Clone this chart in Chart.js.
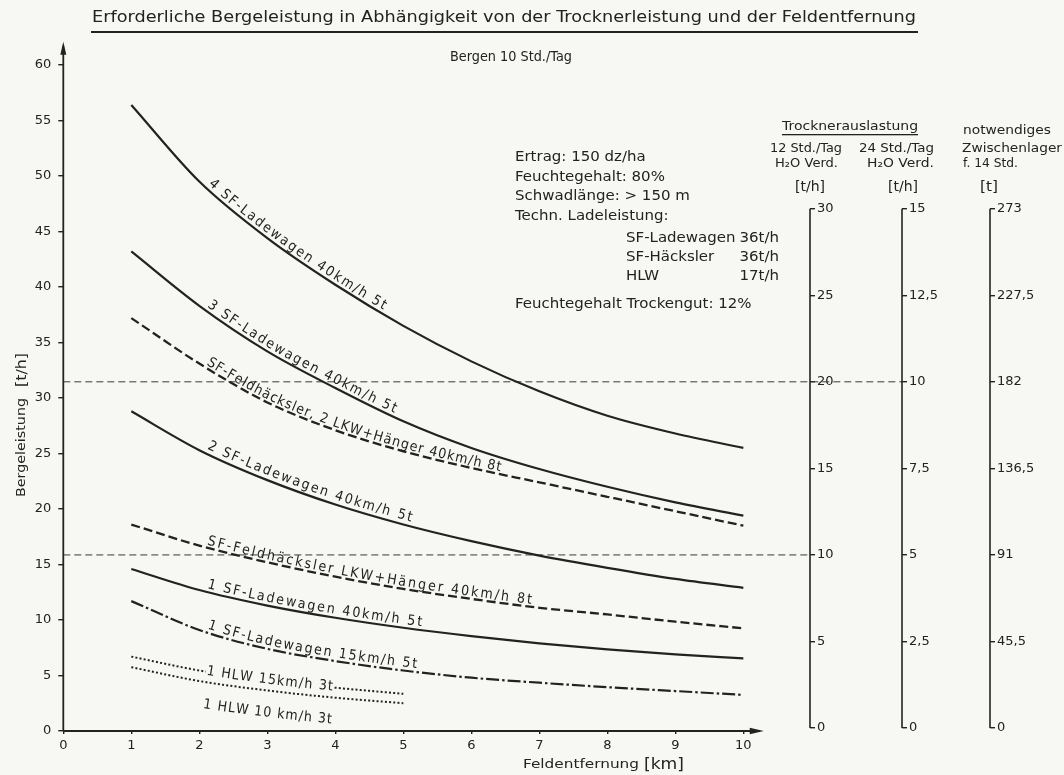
<!DOCTYPE html>
<html>
<head>
<meta charset="utf-8">
<script src="https://cdn.jsdelivr.net/npm/chart.js@4.4.1/dist/chart.umd.min.js"></script>
<style>
  html, body { margin: 0; padding: 0; background: #f7f7f4; }
  canvas { display: block; }
</style>
</head>
<body>
<canvas id="chart" width="1064" height="775"></canvas>
<script>
// Feldentfernung [km]
const km = [1, 2, 3, 4, 5, 6, 7, 8, 9, 10];
const kmHlw = [1, 2, 3, 4, 5];

// Bergeleistung [t/h] je Verfahren
const sfLw4 = [56.4, 49.5, 44.4, 40.2, 36.5, 33.3, 30.6, 28.4, 26.8, 25.5];
const sfLw3 = [43.2, 38.3, 34.2, 30.9, 27.9, 25.5, 23.6, 22.0, 20.6, 19.4];
const fh2Lkw = [37.2, 33.1, 29.6, 27.1, 25.2, 23.7, 22.4, 21.1, 19.8, 18.5];
const sfLw2 = [28.8, 25.3, 22.6, 20.4, 18.6, 17.1, 15.8, 14.7, 13.7, 12.9];
const fhLkw = [18.6, 16.7, 15.2, 13.9, 12.8, 11.9, 11.1, 10.5, 9.85, 9.25];
const sfLw1 = [14.6, 12.7, 11.3, 10.2, 9.3, 8.55, 7.9, 7.35, 6.9, 6.55];
const sfLw1slow = [11.7, 9.1, 7.4, 6.3, 5.45, 4.8, 4.35, 3.95, 3.6, 3.25];
const hlw15 = [6.7, 5.45, 4.55, 3.9, 3.35];
const hlw10 = [5.75, 4.5, 3.65, 3.0, 2.5];

// Achsenteilungen
const kmTicks = [0, 1, 2, 3, 4, 5, 6, 7, 8, 9, 10];
const leistungTicks = [0, 5, 10, 15, 20, 25, 30, 35, 40, 45, 50, 55, 60];
const verd12Ticks = [0, 5, 10, 15, 20, 25, 30];
const verd24Ticks = [0, 2.5, 5, 7.5, 10, 12.5, 15];
const lagerTicks = [0, 45.5, 91, 136.5, 182, 227.5, 273];

// Trocknergrenzen (H2O-Verdampfung bei 12 Std./Tag) [t/h]
const trocknerGrenzen = [20, 10];

const BG = '#f7f7f4';
const INK = '#222222';
const FAM = "'DejaVu Sans', 'Liberation Sans', sans-serif";

const toPts = (xs, ys) => xs.map((x, i) => ({ x, y: ys[i] }));

const lineBase = {
  borderColor: INK, borderWidth: 2.2, pointRadius: 0, fill: false,
  cubicInterpolationMode: 'monotone', clip: false
};
const DASH = [9, 4];
const DASHDOT = [13, 3, 2.5, 3];
const DOT = [2, 2.2];

const datasets = [
  { ...lineBase, data: toPts(km, sfLw4) },
  { ...lineBase, data: toPts(km, sfLw3) },
  { ...lineBase, data: toPts(km, fh2Lkw), borderDash: DASH, borderWidth: 2.3 },
  { ...lineBase, data: toPts(km, sfLw2) },
  { ...lineBase, data: toPts(km, fhLkw), borderDash: DASH, borderWidth: 2.3 },
  { ...lineBase, data: toPts(km, sfLw1) },
  { ...lineBase, data: toPts(km, sfLw1slow), borderDash: DASHDOT },
  { ...lineBase, data: toPts(kmHlw, hlw15), borderDash: DOT, borderWidth: 2 },
  { ...lineBase, data: toPts(kmHlw, hlw10), borderDash: DOT, borderWidth: 2 }
];

// Beschriftungen entlang der Kurven (Lage in km)
const curveLabels = [
  { ds: 0, text: '4 SF-Ladewagen 40km/h 5t', from: 2.09, to: 4.68, off: 4 },
  { ds: 1, text: '3 SF-Ladewagen 40km/h 5t', from: 2.08, to: 4.85, off: 4 },
  { ds: 2, text: 'SF-Feldhäcksler, 2 LKW+Hänger 40km/h 8t', from: 2.08, to: 6.42, off: 3 },
  { ds: 3, text: '2 SF-Ladewagen 40km/h 5t', from: 2.08, to: 5.1, off: 5 },
  { ds: 4, text: 'SF-Feldhäcksler LKW+Hänger 40km/h 8t', from: 2.1, to: 6.89, off: 3 },
  { ds: 5, text: '1 SF-Ladewagen 40km/h 5t', from: 2.1, to: 5.27, off: 4 },
  { ds: 6, text: '1 SF-Ladewagen 15km/h 5t', from: 2.1, to: 5.2, off: 4 },
  { ds: 7, text: '1 HLW 15km/h 3t', from: 2.11, to: 3.97, off: -3, knock: true },
  { ds: 8, text: '1 HLW 10 km/h 3t', from: 2.11, to: 3.99, off: -26 }
];

// Text zwischen x0 und x1 eingepasst
function fitText(ctx, str, x0, x1, yc, size) {
  ctx.save();
  ctx.font = size + 'px ' + FAM;
  const w = ctx.measureText(str).width;
  ctx.translate(x0, yc);
  ctx.scale((x1 - x0) / w, 1);
  ctx.textBaseline = 'middle';
  ctx.textAlign = 'left';
  ctx.fillStyle = INK;
  ctx.fillText(str, 0, 0);
  ctx.restore();
}

// Text mit fester Breitenstreckung, verankert bei x
function blockText(ctx, str, x, yc, align) {
  ctx.save();
  ctx.font = '14px ' + FAM;
  ctx.translate(x, yc);
  ctx.scale(1.07, 1);
  ctx.textBaseline = 'middle';
  ctx.textAlign = align || 'left';
  ctx.fillStyle = INK;
  ctx.fillText(str, 0, 0);
  ctx.restore();
}

function labelAlongCurve(chart, spec) {
  const ctx = chart.ctx;
  const xs = chart.scales.x;
  const el = chart.getDatasetMeta(spec.ds).dataset;
  const a = xs.getPixelForValue(spec.from);
  const b = xs.getPixelForValue(spec.to);
  const pts = [];
  for (let px = a; px <= b + 0.01; px += 1) {
    const q = el.interpolate({ x: px }, 'x');
    if (q && !Array.isArray(q) && isFinite(q.y)) pts.push([px, q.y]);
  }
  if (pts.length < 2) return;
  const cum = [0];
  for (let i = 1; i < pts.length; i++) {
    cum.push(cum[i - 1] + Math.hypot(pts[i][0] - pts[i - 1][0], pts[i][1] - pts[i - 1][1]));
  }
  const total = cum[cum.length - 1];
  ctx.save();
  ctx.font = (spec.size || 14) + 'px ' + FAM;
  const chars = [...spec.text];
  const widths = chars.map(c => ctx.measureText(c).width);
  let cond = 0.9;
  const raw = widths.reduce((s, w) => s + w, 0);
  let gap = (total - raw * cond) / (chars.length - 1);
  if (gap < 0) { cond = total / raw; gap = 0; }
  let s = 0;
  chars.forEach((c, i) => {
    const w = widths[i] * cond;
    const sc = s + w / 2;
    let k = 1;
    while (k < cum.length - 1 && cum[k] < sc) k++;
    const t = (sc - cum[k - 1]) / ((cum[k] - cum[k - 1]) || 1);
    const x = pts[k - 1][0] + t * (pts[k][0] - pts[k - 1][0]);
    const y = pts[k - 1][1] + t * (pts[k][1] - pts[k - 1][1]);
    const k0 = Math.max(0, k - 5), k1 = Math.min(pts.length - 1, k + 4);
    const ang = Math.atan2(pts[k1][1] - pts[k0][1], pts[k1][0] - pts[k0][0]);
    ctx.save();
    ctx.translate(x, y);
    ctx.rotate(ang);
    ctx.translate(0, -spec.off);
    ctx.scale(cond, 1);
    if (spec.knock) {
      const ww = (w + gap) / cond + 1;
      ctx.fillStyle = BG;
      ctx.fillRect(-ww / 2, -12, ww, 15);
    }
    ctx.fillStyle = INK;
    ctx.textAlign = 'center';
    ctx.textBaseline = 'alphabetic';
    ctx.fillText(c, 0, 0);
    ctx.restore();
    s += w + gap;
  });
  ctx.restore();
}

function arrow(ctx, tipX, tipY, dir) {
  ctx.beginPath();
  if (dir === 'up') {
    ctx.moveTo(tipX, tipY); ctx.lineTo(tipX - 3, tipY + 13); ctx.lineTo(tipX + 3, tipY + 13);
  } else {
    ctx.moveTo(tipX, tipY); ctx.lineTo(tipX - 14, tipY - 3.2); ctx.lineTo(tipX - 14, tipY + 3.2);
  }
  ctx.closePath();
  ctx.fill();
}

const decor = {
  id: 'decor',
  beforeDraw(chart) {
    const ctx = chart.ctx;
    ctx.save();
    ctx.fillStyle = BG;
    ctx.fillRect(0, 0, chart.width, chart.height);
    ctx.restore();
  },
  beforeDatasetsDraw(chart) {
    const ctx = chart.ctx;
    const { x, y, y2, y3, y4 } = chart.scales;
    const x0 = x.getPixelForValue(0);
    const y0 = y.getPixelForValue(0);
    ctx.save();
    // Trocknergrenzen
    ctx.strokeStyle = '#3a3a3a';
    ctx.lineWidth = 1;
    ctx.setLineDash([7, 4]);
    const gHigh = y2.getPixelForValue(trocknerGrenzen[0]);
    const gLow = y2.getPixelForValue(trocknerGrenzen[1]);
    ctx.beginPath();
    ctx.moveTo(x0, gHigh); ctx.lineTo(y3.left, gHigh);
    ctx.moveTo(x0, gLow); ctx.lineTo(y2.left, gLow);
    ctx.stroke();
    ctx.setLineDash([]);
    // Achsen mit Pfeilen
    ctx.strokeStyle = INK;
    ctx.fillStyle = INK;
    ctx.lineWidth = 1.8;
    const yTip = y.getPixelForValue(62.1);
    const xTip = x.getPixelForValue(10.3);
    ctx.beginPath();
    ctx.moveTo(x0, y0); ctx.lineTo(x0, yTip + 4);
    ctx.moveTo(x0, y0); ctx.lineTo(xTip - 4, y0);
    ctx.stroke();
    arrow(ctx, x0, yTip, 'up');
    arrow(ctx, xTip, y0, 'right');
    // rechte Skalen
    ctx.lineWidth = 1.6;
    [[y2, verd12Ticks], [y3, verd24Ticks], [y4, lagerTicks]].forEach(([sc, t]) => {
      ctx.beginPath();
      ctx.moveTo(sc.left, sc.getPixelForValue(t[0]));
      ctx.lineTo(sc.left, sc.getPixelForValue(t[t.length - 1]));
      ctx.stroke();
    });
    ctx.restore();
  },
  afterDatasetsDraw(chart) {
    curveLabels.forEach(l => labelAlongCurve(chart, l));
  },
  afterDraw(chart) {
    const ctx = chart.ctx;
    ctx.save();
    // Überschrift
    fitText(ctx, 'Erforderliche Bergeleistung in Abhängigkeit von der Trocknerleistung und der Feldentfernung', 92, 916, 18, 15);
    ctx.fillStyle = INK;
    ctx.fillRect(91, 31, 827, 2);
    fitText(ctx, 'Bergen 10 Std./Tag', 450, 572, 57, 14);
    // Randbedingungen
    blockText(ctx, 'Ertrag: 150 dz/ha', 515, 157);
    blockText(ctx, 'Feuchtegehalt: 80%', 515, 177);
    blockText(ctx, 'Schwadlänge: > 150 m', 515, 196);
    blockText(ctx, 'Techn. Ladeleistung:', 515, 216);
    blockText(ctx, 'SF-Ladewagen', 626, 238);
    blockText(ctx, '36t/h', 779, 238, 'right');
    blockText(ctx, 'SF-Häcksler', 626, 257);
    blockText(ctx, '36t/h', 779, 257, 'right');
    blockText(ctx, 'HLW', 626, 276);
    blockText(ctx, '17t/h', 779, 276, 'right');
    blockText(ctx, 'Feuchtegehalt Trockengut: 12%', 515, 304);
    // Kopf der rechten Skalen
    fitText(ctx, 'Trocknerauslastung', 782, 918, 127, 13);
    ctx.fillRect(782, 134, 136, 1.3);
    fitText(ctx, '12 Std./Tag', 770, 842, 149, 12);
    fitText(ctx, 'H\u2082O Verd.', 775, 838, 164, 12);
    fitText(ctx, '[t/h]', 795, 825, 187, 14);
    fitText(ctx, '24 Std./Tag', 859, 934, 149, 12);
    fitText(ctx, 'H\u2082O Verd.', 867, 934, 164, 12);
    fitText(ctx, '[t/h]', 888, 918, 187, 14);
    fitText(ctx, 'notwendiges', 963, 1051, 131, 12);
    fitText(ctx, 'Zwischenlager', 962, 1062, 149, 12);
    fitText(ctx, 'f. 14 Std.', 963, 1018, 164, 12);
    fitText(ctx, '[t]', 980, 998, 187, 14);
    // Achsentitel
    fitText(ctx, 'Feldentfernung', 523, 639, 765, 13);
    fitText(ctx, '[km]', 644, 684, 765, 15);
    ctx.translate(22, 497);
    ctx.rotate(-Math.PI / 2);
    fitText(ctx, 'Bergeleistung', 0, 99, 0, 13);
    fitText(ctx, '[t/h]', 110, 144, 0, 14);
    ctx.restore();
  }
};

const tickFont = { family: FAM, size: 13 };
const commaFmt = v => String(v).replace('.', ',');
const fixedTicks = arr => axis => { axis.ticks = arr.map(v => ({ value: v })); };
const tickGrid = len => ({ display: true, drawOnChartArea: false, drawTicks: true, tickLength: len, color: INK, lineWidth: 1.4 });

new Chart(document.getElementById('chart'), {
  type: 'line',
  data: { datasets },
  plugins: [decor],
  options: {
    responsive: false,
    animation: false,
    devicePixelRatio: 1,
    layout: { padding: { top: 65, left: 0, right: 0, bottom: 0 } },
    plugins: { legend: { display: false }, tooltip: { enabled: false }, title: { display: false } },
    scales: {
      x: {
        type: 'linear', min: 0, max: 10.98,
        afterBuildTicks: fixedTicks(kmTicks),
        afterFit: s => { s.height = 44; },
        border: { display: false },
        grid: tickGrid(3),
        ticks: { font: tickFont, color: INK, padding: 4, maxRotation: 0, autoSkip: false }
      },
      y: {
        type: 'linear', position: 'left', min: 0, max: 60,
        afterBuildTicks: fixedTicks(leistungTicks),
        afterFit: s => { s.width = 63.3; },
        border: { display: false },
        grid: tickGrid(5),
        ticks: { font: tickFont, color: INK, padding: 7, autoSkip: false }
      },
      y2: {
        type: 'linear', position: 'right', weight: 1, min: -0.17, max: 38.3,
        afterBuildTicks: fixedTicks(verd12Ticks),
        afterFit: s => { s.width = 92; },
        border: { display: false },
        grid: tickGrid(5),
        ticks: { font: tickFont, color: INK, padding: 2, autoSkip: false, callback: commaFmt }
      },
      y3: {
        type: 'linear', position: 'right', weight: 2, min: -0.085, max: 19.15,
        afterBuildTicks: fixedTicks(verd24Ticks),
        afterFit: s => { s.width = 88; },
        border: { display: false },
        grid: tickGrid(5),
        ticks: { font: tickFont, color: INK, padding: 2, autoSkip: false, callback: commaFmt }
      },
      y4: {
        type: 'linear', position: 'right', weight: 3, min: -1.55, max: 348.6,
        afterBuildTicks: fixedTicks(lagerTicks),
        afterFit: s => { s.width = 74; },
        border: { display: false },
        grid: tickGrid(5),
        ticks: { font: tickFont, color: INK, padding: 2, autoSkip: false, callback: commaFmt }
      }
    }
  }
});
</script>
</body>
</html>
